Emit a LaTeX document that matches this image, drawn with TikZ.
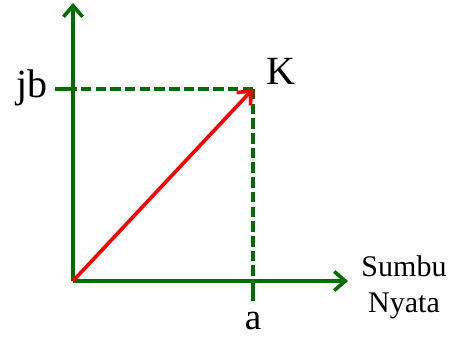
\documentclass[tikz,border=0pt]{standalone}
\usepackage{fontspec}
\setmainfont{Liberation Serif}
\usetikzlibrary{arrows.meta}
\definecolor{axgreen}{RGB}{0,110,0}
\begin{document}
\begin{tikzpicture}[x=1pt,y=-1pt,
  axis/.style={draw=axgreen,line width=3.6pt,-{Straight Barb[length=11pt,width=19pt,line width=3.6pt]}},
  guide/.style={draw=axgreen,line width=3.4pt,dash pattern=on 10.5pt off 4.2pt},
  tick/.style={draw=axgreen,line width=3.4pt},
  vec/.style={draw=red,line width=3.6pt,-{Straight Barb[length=11pt,width=19pt,line width=3.6pt]}},
  lbl/.style={inner sep=0pt,font=\fontsize{40}{44}\selectfont},
  slbl/.style={inner sep=0pt,align=center,font=\fontsize{30}{36}\selectfont}]
\useasboundingbox (0,0) rectangle (456,337);
\coordinate (O) at (73,281);
\coordinate (Ytop) at (73,3);
\coordinate (Xend) at (348,281);
\coordinate (K) at (253,89);
\coordinate (Kx) at (253,281);
\coordinate (Ky) at (73,89);
\coordinate (Kxb) at (253,301);
\coordinate (Kyl) at (55,89);
\draw[axis] (O) -- (Ytop);
\draw[axis] (O) -- (Xend);
\draw[guide] (K) -- (Ky);
\draw[guide] (K) -- (Kx);
\draw[tick] (Kx) -- (Kxb);
\draw[tick] (Ky) -- (Kyl);
\draw[vec] (O) -- (K);
\node[lbl] (jb) at (32,88) {jb};
\node[lbl] (k) at (281,71) {K};
\node[lbl,anchor=base,font=\fontsize{37}{40}\selectfont] (a) at (253,329) {a};
\node[slbl] (s) at (404,287) {Sumbu\\Nyata};
\end{tikzpicture}
\end{document}
